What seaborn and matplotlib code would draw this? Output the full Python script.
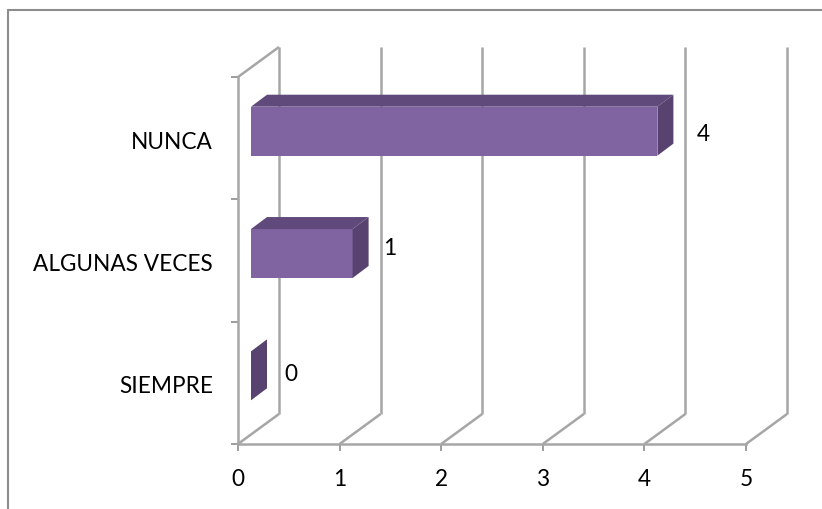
import matplotlib
matplotlib.use("Agg")
import matplotlib.pyplot as plt
from matplotlib.lines import Line2D
from matplotlib.patches import Polygon
from matplotlib.transforms import Affine2D
import pandas as pd
import seaborn as sns

categories = ["NUNCA", "ALGUNAS VECES", "SIEMPRE"]
values = [4, 1, 0]
x_ticks = [0, 1, 2, 3, 4, 5]

FRONT = "#8063A1"
TOP = "#604A7B"
SIDE = "#584270"
WALL = "#A6A6A6"
W, H = 822, 510

sns.set_theme(style="white")
plt.rcParams["font.family"] = ["Lato", "DejaVu Sans"]

fig = plt.figure(figsize=(W / 100, H / 100), dpi=100)
x0, x5, y_bot, y_top = 238, 746, 445, 78
ax = fig.add_axes([x0 / W, 1 - y_bot / H, (x5 - x0) / W, (y_bot - y_top) / H])

# Outer chart frame: left and top edges only
frame = dict(color="#8C8C8C", lw=1.5, transform=fig.transFigure)
fig.add_artist(Line2D([8 / W, 8 / W], [-0.02, 1 - 11 / H], **frame))
fig.add_artist(Line2D([8 / W, 1.02], [1 - 11 / H, 1 - 11 / H], **frame))

df = pd.DataFrame({"categoria": categories, "valor": values})
sns.barplot(data=df, x="valor", y="categoria", order=categories, color=FRONT,
            saturation=1, width=0.4, ax=ax, zorder=4)
ax.set_xlim(0, 5)
ax.set_ylim(2.5, -0.5)
ax.set_xlabel("")
ax.set_ylabel("")

# Pixel offsets that fake the depth of the 3D plot
px = ax.transData
bar_shift = Affine2D().translate(13, 7)
depth = Affine2D().translate(16, 12)
wall = Affine2D().translate(41, 30)
# Value label nudges, in pixels from the bar's front right edge
label_nudge = [(39, -2), (30, 6), (33, 2)]

for patch in ax.patches:
    patch.set_transform(px + bar_shift)
    patch.set_linewidth(0)

for y, v in enumerate(values):
    lo, hi = y + 0.2, y - 0.2
    t0 = px + bar_shift
    # Top face, then right-hand face of each bar
    top = [t0.transform((0, hi)), t0.transform((v, hi)),
           (t0 + depth).transform((v, hi)), (t0 + depth).transform((0, hi))]
    side = [t0.transform((v, hi)), t0.transform((v, lo)),
            (t0 + depth).transform((v, lo)), (t0 + depth).transform((v, hi))]
    ax.add_patch(Polygon(top, closed=True, transform=None, fc=TOP, ec="none", zorder=4))
    ax.add_patch(Polygon(side, closed=True, transform=None, fc=SIDE, ec="none", zorder=4))
    ax.annotate(str(v), xy=(v, y), xycoords=t0, xytext=label_nudge[y], textcoords="offset pixels",
                fontsize=16.3, color="black", va="center", ha="left", annotation_clip=False)

# Walls and floor of the plot box
line = dict(color=WALL, lw=1.8, solid_capstyle="butt", clip_on=False)
for x in x_ticks:
    ax.plot([x, x], [2.5, -0.5], transform=px + wall, zorder=1, **line)
    a = px.transform((x, 2.5))
    b = (px + wall).transform((x, 2.5))
    ax.plot([a[0], b[0]], [a[1], b[1]], transform=None, zorder=1, **line)
a = px.transform((0, -0.5))
b = (px + wall).transform((0, -0.5))
ax.plot([a[0], b[0]], [a[1], b[1]], transform=None, zorder=1, **line)

sns.despine(ax=ax, top=True, right=True)
for side_name in ("left", "bottom"):
    ax.spines[side_name].set_color(WALL)
    ax.spines[side_name].set_linewidth(1.8)

ax.set_xticks(x_ticks)
ax.set_yticks([-0.5, 0.5, 1.5, 2.5])
ax.set_yticklabels([])
ax.tick_params(axis="both", length=5, width=1.2, color="#8C8C8C", left=True, bottom=True,
               labelsize=16.3, labelcolor="black")
ax.tick_params(axis="x", pad=12)
for y, name in enumerate(categories):
    ax.annotate(name, xy=(0, y), xycoords=px, xytext=(-25, -3), textcoords="offset pixels",
                fontsize=16.3, color="black", ha="right", va="center", annotation_clip=False)

fig.savefig("out.png", dpi=100, facecolor="white")
